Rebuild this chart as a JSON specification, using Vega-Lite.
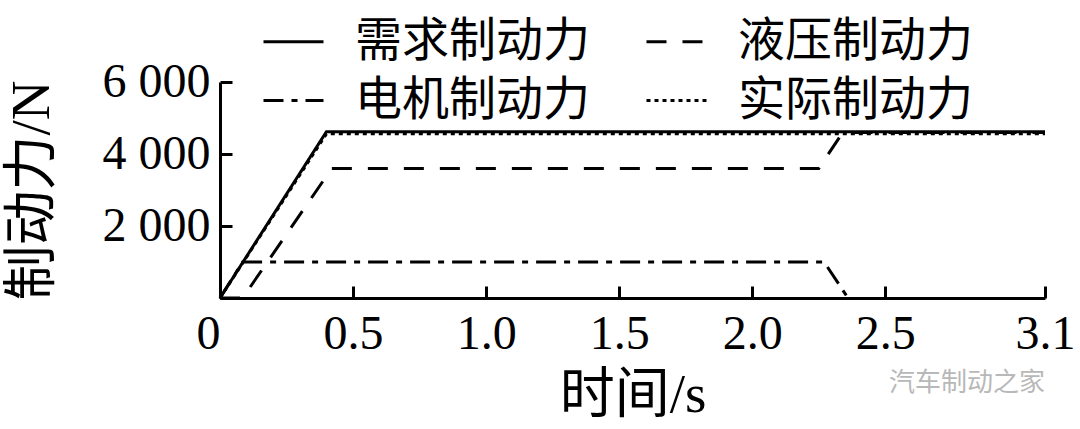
{
  "$schema": "https://vega.github.io/schema/vega-lite/v6.json",
  "width": 825,
  "height": 216,
  "autosize": {"type": "none"},
  "padding": {"left": 220, "top": 82, "right": 35, "bottom": 131},
  "background": "white",
  "title": {"text": "汽车制动之家", "orient": "bottom", "anchor": "end", "frame": "group", "color": "#b8b8b8", "fontSize": 26, "font": "Noto Sans CJK SC", "fontWeight": "normal", "offset": -52},
  "data": {"values": [
    {"series": "需求制动力", "t": 0, "f": 0},
    {"series": "需求制动力", "t": 0.4, "f": 4620},
    {"series": "需求制动力", "t": 3.1, "f": 4620},
    {"series": "液压制动力", "t": 0, "f": 0},
    {"series": "液压制动力", "t": 0.085, "f": 0},
    {"series": "液压制动力", "t": 0.42, "f": 3600},
    {"series": "液压制动力", "t": 2.25, "f": 3600},
    {"series": "液压制动力", "t": 2.34, "f": 4600},
    {"series": "液压制动力", "t": 3.1, "f": 4600},
    {"series": "电机制动力", "t": 0, "f": 0},
    {"series": "电机制动力", "t": 0.085, "f": 1000},
    {"series": "电机制动力", "t": 2.27, "f": 1000},
    {"series": "电机制动力", "t": 2.36, "f": 0},
    {"series": "实际制动力", "t": 0, "f": 0},
    {"series": "实际制动力", "t": 0.4, "f": 4560},
    {"series": "实际制动力", "t": 3.1, "f": 4560}
  ]},
  "mark": {"type": "line", "color": "black", "strokeWidth": 3, "clip": false},
  "encoding": {
    "x": {
      "field": "t", "type": "quantitative",
      "scale": {"domain": [0, 3.1], "nice": false, "zero": false},
      "axis": {
        "title": "时间/s",
        "values": [0, 0.5, 1, 1.5, 2, 2.5, 3.1],
        "labelExpr": "datum.value == 0 ? '0' : format(datum.value, '.1f')",
        "labelAlign": {"expr": "datum.value == 0 ? 'right' : 'center'"},
        "labelFlush": false,
        "labelOverlap": false,
        "grid": false,
        "tickSize": -12,
        "labelPadding": 24,
        "titlePadding": 10
      }
    },
    "y": {
      "field": "f", "type": "quantitative",
      "scale": {"domain": [0, 6000], "nice": false},
      "axis": {
        "title": "制动力/N",
        "values": [0, 2000, 4000, 6000],
        "labelExpr": "datum.value == 0 ? '' : replace(format(datum.value, ','), ',', ' ')",
        "labelFlush": false,
        "labelOverlap": false,
        "grid": false,
        "tickSize": -12,
        "labelPadding": 22,
        "titlePadding": 42
      }
    },
    "strokeDash": {
      "field": "series", "type": "nominal",
      "scale": {
        "domain": ["需求制动力", "液压制动力", "电机制动力", "实际制动力"],
        "range": [[1, 0], [20, 16], [20, 8, 6, 8], [4, 4]]
      },
      "legend": {
        "title": null,
        "orient": "none",
        "legendX": 42,
        "legendY": -72,
        "direction": "horizontal",
        "columns": 2,
        "columnPadding": 50,
        "rowPadding": 4,
        "symbolType": "stroke",
        "symbolSize": 3600,
        "symbolStrokeWidth": 3,
        "symbolStrokeColor": "black",
        "labelOffset": 30,
        "labelFont": "Noto Sans CJK SC",
        "labelFontSize": 47,
        "labelColor": "black",
        "labelLimit": 400
      }
    }
  },
  "config": {
    "view": {"stroke": null},
    "axis": {
      "domainColor": "black",
      "domainWidth": 3,
      "tickColor": "black",
      "tickWidth": 3,
      "labelFont": "Liberation Serif",
      "labelFontSize": 48,
      "labelColor": "black",
      "titleFont": "Liberation Serif, Noto Sans CJK SC",
      "titleFontSize": 55,
      "titleFontWeight": "normal",
      "titleColor": "black"
    }
  }
}
